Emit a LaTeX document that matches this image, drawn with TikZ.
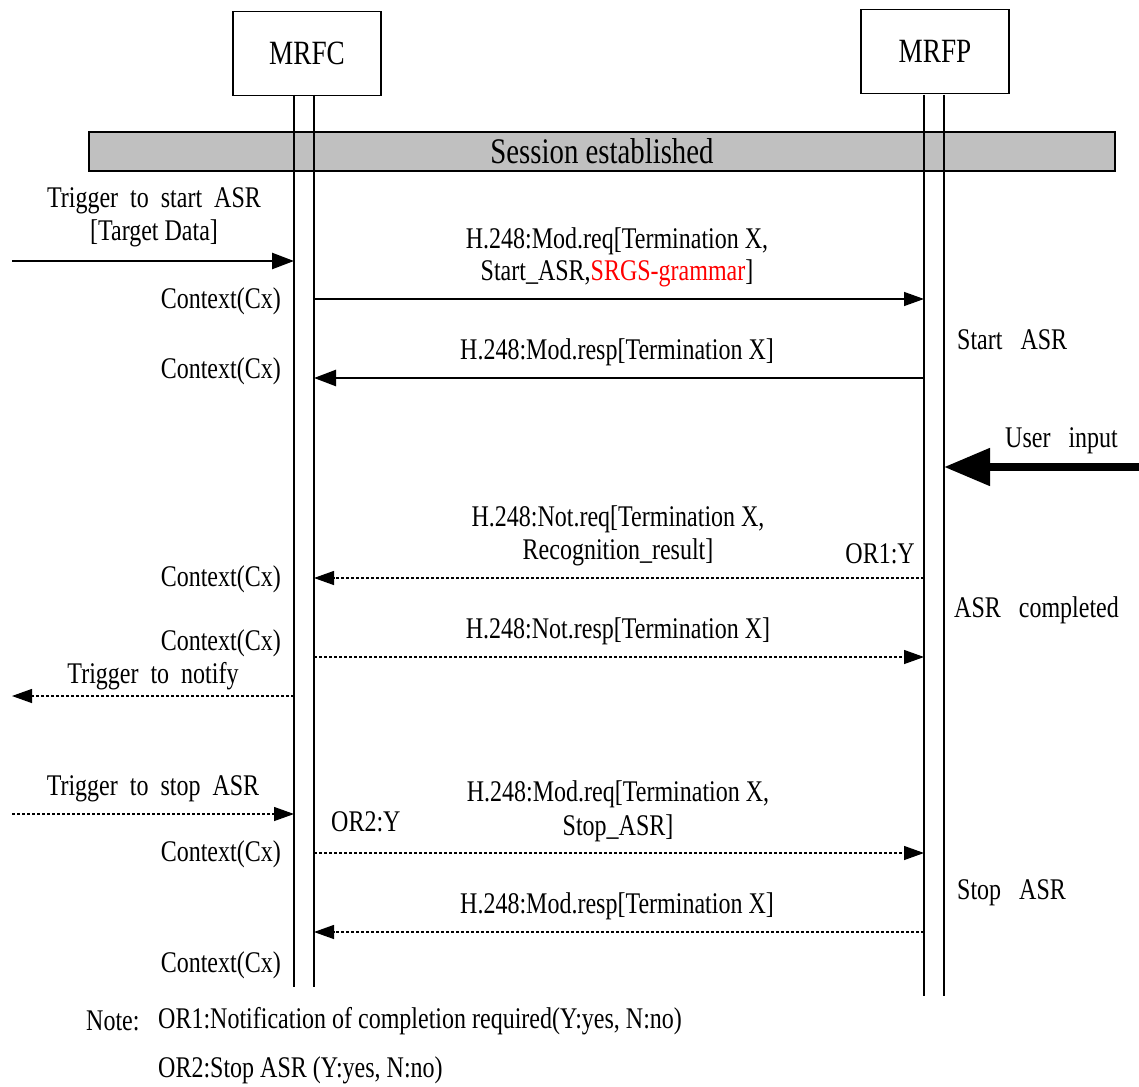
\documentclass[tikz,border=0pt]{standalone}
\usepackage{fontspec}
\setmainfont{Liberation Serif}[FakeStretch=0.8]
\usetikzlibrary{arrows.meta}
\newcommand\fs{\fontsize{30}{34}\selectfont}
\newcommand\fsbig{\fontsize{36}{40}\selectfont}
\newcommand\fsbox{\fontsize{34}{38}\selectfont}
\definecolor{bargray}{RGB}{192,192,192}
\definecolor{srgsred}{RGB}{255,0,0}
\begin{document}
\begin{tikzpicture}[x=1pt,y=-1pt,
  lifeline/.style={line width=1.5pt},
  entity/.style={draw,line width=1.3pt,minimum width=148pt,minimum height=84pt,inner sep=0pt,font=\fsbox},
  msg/.style={line width=1.3pt,-{Triangle[length=20pt,width=14pt]}},
  thickmsg/.style={line width=2.5pt,-{Triangle[length=22pt,width=16pt]}},
  dotmsg/.style={msg,dash pattern=on 3pt off 2pt},
  bigmsg/.style={line width=8pt,-{Triangle[length=46pt,width=36pt]}},
  lbl/.style={font=\fs,inner sep=0pt,align=center,yshift=-2pt},
  lblr/.style={lbl,anchor=east},
  lbll/.style={lbl,anchor=west}]
\useasboundingbox (0,0) rectangle (1139,1086);

% session bar
\node[draw,fill=bargray,line width=1.3pt,minimum width=1026pt,minimum height=39pt,inner sep=0pt,font=\fsbig] (sess) at (602,151.5) {Session established};

% entities
\node[entity] (mrfc) at (307,53.5) {MRFC};
\node[entity] (mrfp) at (935,51.5) {MRFP};

% lifelines
\coordinate (c1t) at (294,95); \coordinate (c1b) at (294,987);
\coordinate (c2t) at (314,95); \coordinate (c2b) at (314,987);
\coordinate (p1t) at (924,95); \coordinate (p1b) at (924,996);
\coordinate (p2t) at (944,95); \coordinate (p2b) at (944,996);
\draw[lifeline] (c1t) -- (c1b);
\draw[lifeline] (c2t) -- (c2b);
\draw[lifeline] (p1t) -- (p1b);
\draw[lifeline] (p2t) -- (p2b);

% 1 trigger to start ASR
\coordinate (ext1) at (12,261); \coordinate (c1a) at (294,261);
\draw[thickmsg] (ext1) -- (c1a);
\node[lbl] (t1a) at (154,199) {Trigger~~to~~start~~ASR};
\node[lbl] (t1b) at (154,231) {[Target Data]};

% 2 Mod.req
\coordinate (c2a) at (314,299); \coordinate (p1a) at (924,299);
\draw[msg] (c2a) -- (p1a);
\node[lbl] (m2a) at (617,239) {H.248:Mod.req[Termination X,};
\node[lbl] (m2b) at (617,271) {Start\_ASR,\textcolor{srgsred}{SRGS-grammar}]};
\node[lblr] (cx1) at (281,299) {Context(Cx)};

% 3 Mod.resp
\coordinate (p1b3) at (924,378); \coordinate (c2b3) at (314,378);
\draw[thickmsg] (p1b3) -- (c2b3);
\node[lbl] (m3) at (617,350) {H.248:Mod.resp[Termination X]};
\node[lblr] (cx2) at (281,369) {Context(Cx)};
\node[lbll] (sasr) at (957,338) {Start~~~ASR};

% 4 user input
\coordinate (ext4) at (1139,467); \coordinate (p2a) at (944,467);
\draw[bigmsg] (ext4) -- (p2a);
\node[lbll] (ui) at (1005,439) {User~~~input};

% 5 Not.req
\coordinate (p15) at (924,578); \coordinate (c25) at (314,578);
\draw[dotmsg] (p15) -- (c25);
\node[lbl] (m5a) at (618,517) {H.248:Not.req[Termination X,};
\node[lbl] (m5b) at (618,550) {Recognition\_result]};
\node[lblr] (or1) at (915,552) {OR1:Y};
\node[lblr] (cx3) at (281,577) {Context(Cx)};
\node[lbll] (asrc) at (954,608) {ASR~~~completed};

% 6 Not.resp
\coordinate (c26) at (314,657); \coordinate (p16) at (924,657);
\draw[dotmsg] (c26) -- (p16);
\node[lbl] (m6) at (618,629) {H.248:Not.resp[Termination X]};
\node[lblr] (cx4) at (281,641) {Context(Cx)};

% 7 trigger to notify
\coordinate (c17) at (294,696); \coordinate (ext7) at (12,696);
\draw[dotmsg] (c17) -- (ext7);
\node[lbl] (t7) at (153,674) {Trigger~~to~~notify};

% 8 trigger to stop ASR
\coordinate (ext8) at (12,814); \coordinate (c18) at (294,814);
\draw[dotmsg] (ext8) -- (c18);
\node[lbl] (t8) at (153,787) {Trigger~~to~~stop~~ASR};

% 9 Mod.req stop
\coordinate (c29) at (314,853); \coordinate (p19) at (924,853);
\draw[dotmsg] (c29) -- (p19);
\node[lbl] (m9a) at (618,792) {H.248:Mod.req[Termination X,};
\node[lbl] (m9b) at (618,826) {Stop\_ASR]};
\node[lbll] (or2) at (331,820) {OR2:Y};
\node[lblr] (cx5) at (281,852) {Context(Cx)};
\node[lbll] (stasr) at (957,891) {Stop~~~ASR};

% 10 Mod.resp stop
\coordinate (p110) at (924,932); \coordinate (c210) at (314,932);
\draw[dotmsg] (p110) -- (c210);
\node[lbl] (m10) at (617,904) {H.248:Mod.resp[Termination X]};
\node[lblr] (cx6) at (281,963) {Context(Cx)};

% notes
\node[lbll] (note) at (86,1019) {Note:};
\node[lbll] (n1) at (158,1019) {OR1:Notification of completion required(Y:yes, N:no)};
\node[lbll] (n2) at (158,1068) {OR2:Stop ASR (Y:yes, N:no)};
\end{tikzpicture}
\end{document}
